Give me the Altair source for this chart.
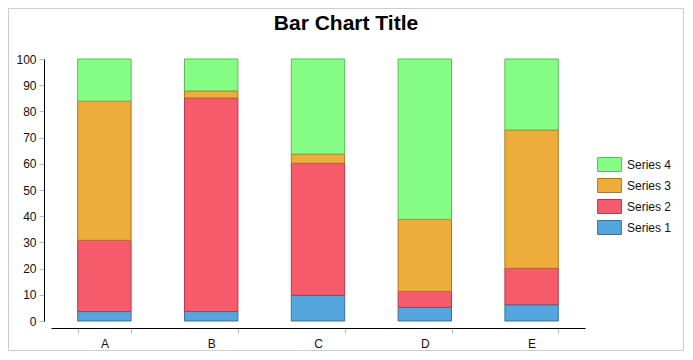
import altair as alt
import pandas as pd

categories = ["A", "B", "C", "D", "E"]
series_names = ["Series 1", "Series 2", "Series 3", "Series 4"]
series1 = [3.6, 3.6, 9.8, 5.2, 6.2]
series2 = [27.2, 81.5, 50.4, 6.1, 13.9]
series3 = [53.1, 2.7, 3.5, 27.5, 52.8]
series4 = [16.1, 12.2, 36.3, 61.2, 27.1]
fills = ["#55A6DF", "#F65B6C", "#EEAD3A", "#86FE86"]
strokes = ["#3B72A0", "#B53A4B", "#A97B20", "#5DB85D"]
chart_title = "Bar Chart Title"

rows = []
for si, (name, vals) in enumerate(zip(series_names, [series1, series2, series3, series4])):
    for c, v in zip(categories, vals):
        rows.append({"cat": c, "series": name, "value": v, "idx": si})
df = pd.DataFrame(rows)

W, H = 534, 262
PL, PT, PR, PB = 43, 51, 99, 30
FONT = "Liberation Sans"

legend_domain = series_names[::-1]
fill_range = fills[::-1]
stroke_range = strokes[::-1]

leg = alt.Legend(
    title=None, orient="none", legendX=551, legendY=98,
    symbolType="M-1.7,-1H1.7V1H-1.7Z", symbolSize=196, symbolStrokeWidth=1,
    labelFont=FONT, labelFontSize=12, labelColor="#111", rowPadding=2,
    labelOffset=10, symbolOpacity=1, padding=0,
)

bars = alt.Chart(df).mark_bar(strokeWidth=1, opacity=1).encode(
    x=alt.X("cat:N", title=None,
            scale=alt.Scale(paddingInner=0.5, paddingOuter=0.25),
            axis=alt.Axis(labelAngle=0, offset=7, tickBand="extent", tickSize=5,
                          tickColor="#bbb", domainColor="#000", labelFont=FONT,
                          labelFontSize=12, labelColor="#111", labelPadding=5)),
    y=alt.Y("value:Q", title=None, stack="zero",
            scale=alt.Scale(domain=[0, 100], nice=False),
            axis=alt.Axis(values=list(range(0, 101, 10)), offset=7, tickSize=5,
                          tickColor="#bbb", domainColor="#000", grid=False,
                          labelFont=FONT, labelFontSize=12, labelColor="#111",
                          labelPadding=3)),
    color=alt.Color("series:N", scale=alt.Scale(domain=legend_domain, range=fill_range), legend=leg),
    stroke=alt.Stroke("series:N", scale=alt.Scale(domain=legend_domain, range=stroke_range), legend=leg),
    order=alt.Order("idx:Q", sort="ascending"),
)

border = alt.Chart(pd.DataFrame({"a": [0]})).mark_rect(
    fill=None, stroke="#cccccc", strokeWidth=1, clip=False
).encode(
    x=alt.value(-PL + 0.5), x2=alt.value(W + PR - 0.5),
    y=alt.value(-PT + 0.5), y2=alt.value(H + PB - 0.5),
)

title = alt.Chart(pd.DataFrame({"t": [chart_title]})).mark_text(
    font=FONT, fontSize=21, fontWeight="bold", color="#000",
    align="center", baseline="alphabetic", clip=False
).encode(text="t:N", x=alt.value(295), y=alt.value(-29))

chart = alt.layer(border, bars, title).properties(
    width=W, height=H,
    autosize=alt.AutoSizeParams(type="none"),
    padding={"left": PL, "top": PT, "right": PR, "bottom": PB},
).configure_view(stroke=None)

chart.save("out.html", embed_options={"renderer": "svg", "actions": False})
